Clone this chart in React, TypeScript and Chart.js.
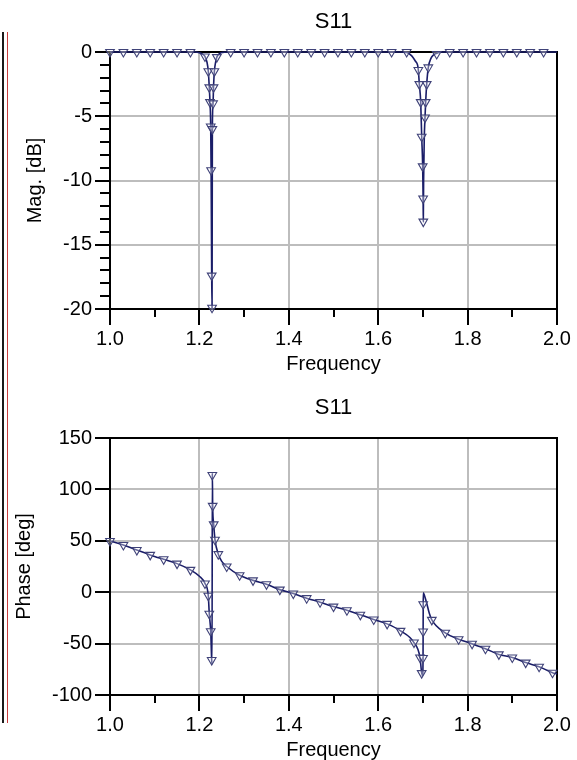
import React, { useEffect, useRef } from "react";
import { Chart, registerables } from "chart.js";

Chart.register(...registerables);

// ---------- axis ticks ----------
const xTickValues = [1.0, 1.2, 1.4, 1.6, 1.8, 2.0];
const xMinorTickValues = [1.1, 1.3, 1.5, 1.7, 1.9];
const magTickValues = [0, -5, -10, -15, -20];
const magMinorTickValues = [-1, -2, -3, -4, -6, -7, -8, -9, -11, -12, -13, -14, -16, -17, -18, -19];
const phaseTickValues = [-100, -50, 0, 50, 100, 150];
const phaseMinorTickValues: number[] = [];

// ---------- S11 magnitude (dB) : trace ----------
const magCurveFreq = [
  1.0, 1.19, 1.2, 1.206, 1.2125, 1.217, 1.2199, 1.2221, 1.2237, 1.2253, 1.2262, 1.2275, 1.2283,
  1.229, 1.2305, 1.2316, 1.2335, 1.2362, 1.239, 1.245, 1.255, 1.265,
  1.65, 1.6637, 1.675, 1.683, 1.688, 1.6898, 1.692, 1.6951, 1.6973, 1.6995, 1.7005, 1.7009,
  1.7016, 1.703, 1.7047, 1.7062, 1.7085, 1.7121, 1.718, 1.723, 1.731, 1.74, 2.0,
];
const magCurveDb = [
  0, 0, -0.05, -0.15, -0.35, -0.8, -1.5, -2.75, -3.9, -5.8, -9.2, -17.4, -20,
  -6.0, -4.0, -2.75, -1.5, -0.8, -0.4, -0.12, -0.02, 0,
  0, -0.03, -0.3, -0.7, -1.0, -1.4, -2.5, -3.9, -6.6, -8.9, -11.4, -13.2,
  -10.0, -6.8, -5.1, -3.9, -2.5, -1.2, -0.5, -0.25, -0.1, 0, 0,
];
// ---------- S11 magnitude (dB) : symbols ----------
const magMarkerFreq = [
  1.0, 1.03, 1.06, 1.09, 1.12, 1.15, 1.18, 1.2125,
  1.2199, 1.2221, 1.2237, 1.2253, 1.2262, 1.2275, 1.2283,
  1.229, 1.2305, 1.2316, 1.2335, 1.239,
  1.27, 1.3, 1.33, 1.36, 1.39, 1.42, 1.45, 1.48, 1.51, 1.54, 1.57, 1.6, 1.63, 1.6637,
  1.6898, 1.692, 1.6951, 1.6973, 1.6995, 1.7005, 1.7009,
  1.7047, 1.7062, 1.7085, 1.7121, 1.7309,
  1.76, 1.79, 1.82, 1.85, 1.88, 1.91, 1.94, 1.97,
];
const magMarkerDb = [
  0, 0, 0, 0, 0, 0, 0, -0.35,
  -1.5, -2.75, -3.9, -5.8, -9.2, -17.4, -19.9,
  -6.0, -4.0, -2.75, -1.5, -0.4,
  0, 0, 0, 0, 0, 0, 0, 0, 0, 0, 0, 0, 0, 0,
  -1.4, -2.5, -3.9, -6.6, -8.9, -11.4, -13.2,
  -5.1, -3.9, -2.5, -1.2, -0.15,
  0, 0, 0, 0, 0, 0, 0, 0,
];

// ---------- S11 phase (deg) : trace ----------
const phaseCurveFreq = [
  1.0, 1.03, 1.06, 1.09, 1.12, 1.15, 1.18, 1.2, 1.2125, 1.2199, 1.2221, 1.2253, 1.2275, 1.2283,
  1.2289, 1.2297, 1.232, 1.2349, 1.2423, 1.25, 1.2611, 1.29, 1.32, 1.35, 1.38, 1.41, 1.44, 1.47,
  1.5, 1.53, 1.56, 1.59, 1.62, 1.65, 1.68, 1.6935, 1.6973, 1.6995, 1.7003, 1.7005, 1.7007, 1.7009,
  1.704, 1.7085, 1.7143, 1.72, 1.75, 1.78, 1.81, 1.84, 1.87, 1.9, 1.93, 1.96, 1.99, 2.0,
];
const phaseCurveDeg = [
  49.8, 45.9, 41, 36.3, 32, 27.8, 21.7, 15.5, 8.5, -3.5, -21, -38, -66, -70,
  116, 84, 66, 51, 37, 30, 25, 16.5, 11.5, 7.7, 2.5, -1.3, -5.8, -9.7,
  -14, -17.5, -22, -26.5, -30.8, -37.6, -49, -63.5, -78.7, -81, -64, -38.3, -11.7, -0.5,
  -4, -10.7, -20.4, -26.9, -39.5, -45.7, -50.2, -55, -60.5, -63.5, -68.5, -72.5, -78.3, -79.5,
];
// ---------- S11 phase (deg) : symbols ----------
const phaseMarkerFreq = [
  1.0, 1.03, 1.06, 1.09, 1.12, 1.15, 1.18, 1.2125, 1.2199, 1.2221, 1.2253, 1.2275,
  1.2289, 1.2297, 1.232, 1.2349, 1.2423, 1.2611, 1.29, 1.32, 1.35, 1.38, 1.41, 1.44, 1.47,
  1.5, 1.53, 1.56, 1.59, 1.62, 1.65, 1.68, 1.6935, 1.6973, 1.7003, 1.7005, 1.7007,
  1.72, 1.75, 1.78, 1.81, 1.84, 1.87, 1.9, 1.93, 1.96, 1.99,
];
const phaseMarkerDeg = [
  49.8, 45.9, 41, 36.3, 32, 27.8, 21.7, 8.5, -3.5, -21, -38, -66,
  114, 84, 66, 51, 37, 25, 16.5, 11.5, 7.7, 2.5, -1.3, -5.8, -9.7,
  -14, -17.5, -22, -26.5, -30.8, -37.6, -49, -63.5, -78.7, -64, -38.3, -11.7,
  -26.9, -39.5, -45.7, -50.2, -55, -60.5, -63.5, -68.5, -72.5, -78.3,
];

const FONT = '"Liberation Sans", Arial, Helvetica, sans-serif';
const zip = (xs: number[], ys: number[]) => xs.map((x, i) => ({ x, y: ys[i] }));

function framePlugin(yMinor: number[]) {
  return {
    id: "frameMinor",
    beforeDatasetsDraw(chart: any) {
      const { ctx, chartArea: a, scales } = chart;
      ctx.save();
      ctx.strokeStyle = "#000";
      ctx.lineWidth = 2;
      ctx.strokeRect(a.left, a.top, a.right - a.left, a.bottom - a.top);
      ctx.beginPath();
      xMinorTickValues.forEach((v) => {
        const px = Math.round(scales.x.getPixelForValue(v));
        ctx.moveTo(px, a.bottom);
        ctx.lineTo(px, a.bottom + 8);
      });
      yMinor.forEach((v) => {
        const py = Math.round(scales.y.getPixelForValue(v));
        ctx.moveTo(a.left - 10, py);
        ctx.lineTo(a.left, py);
      });
      ctx.stroke();
      ctx.restore();
    },
  };
}

function makeConfig(p: {
  curve: { x: number; y: number }[];
  markers: { x: number; y: number }[];
  yMin: number;
  yMax: number;
  yTicks: number[];
  yMinor: number[];
  yTitle: string;
  yTitlePad: number;
  xAxisHeight: number;
  xTitlePad: number;
}): any {
  return {
    type: "line",
    data: {
      datasets: [
        {
          data: p.markers,
          showLine: false,
          pointStyle: "triangle",
          pointRotation: 180,
          pointRadius: 5,
          pointBorderWidth: 1.1,
          pointBorderColor: "#3f4278",
          pointBackgroundColor: "rgba(255,255,255,0.35)",
          clip: false,
          order: 1,
        },
        {
          data: p.curve,
          borderColor: "#1a1d68",
          borderWidth: 1.6,
          pointRadius: 0,
          cubicInterpolationMode: "monotone",
          fill: false,
          clip: false,
          order: 2,
        },
      ],
    },
    options: {
      responsive: false,
      animation: false,
      events: [],
      layout: { padding: { left: 0, right: 20, top: 0, bottom: 0 } },
      plugins: {
        legend: { display: false },
        tooltip: { enabled: false },
        title: {
          display: true,
          text: "S11",
          fullSize: false,
          color: "#000",
          font: { family: FONT, size: 22, weight: "normal" },
          padding: { top: 9, bottom: 16.6 },
        },
      },
      scales: {
        x: {
          type: "linear",
          min: 1,
          max: 2,
          afterBuildTicks: (s: any) => {
            s.ticks = xTickValues.map((v) => ({ value: v }));
          },
          afterFit: (s: any) => {
            s.height = p.xAxisHeight;
          },
          grid: { color: "#bdbdbd", lineWidth: 2, tickColor: "#000", tickWidth: 2, tickLength: 16 },
          border: { display: true, color: "#000", width: 2 },
          ticks: {
            color: "#000",
            font: { family: FONT, size: 20 },
            padding: 2,
            maxRotation: 0,
            autoSkip: false,
            callback: (v: any) => Number(v).toFixed(1),
          },
          title: {
            display: true,
            text: "Frequency",
            color: "#000",
            font: { family: FONT, size: 20 },
            padding: { top: 0, bottom: p.xTitlePad },
          },
        },
        y: {
          type: "linear",
          min: p.yMin,
          max: p.yMax,
          afterBuildTicks: (s: any) => {
            s.ticks = p.yTicks.map((v) => ({ value: v }));
          },
          afterFit: (s: any) => {
            s.width = 110;
          },
          grid: { color: "#bdbdbd", lineWidth: 2, tickColor: "#000", tickWidth: 2, tickLength: 15 },
          border: { display: true, color: "#000", width: 2 },
          ticks: {
            color: "#000",
            font: { family: FONT, size: 20 },
            padding: 3,
            autoSkip: false,
            callback: (v: any) => String(v),
          },
          title: {
            display: true,
            text: p.yTitle,
            color: "#000",
            font: { family: FONT, size: 20 },
            padding: { top: p.yTitlePad, bottom: 0 },
          },
        },
      },
    },
    plugins: [framePlugin(p.yMinor)],
  };
}

export default function App() {
  const magRef = useRef<HTMLCanvasElement | null>(null);
  const phaseRef = useRef<HTMLCanvasElement | null>(null);

  useEffect(() => {
    const c1 = new Chart(
      magRef.current as HTMLCanvasElement,
      makeConfig({
        curve: zip(magCurveFreq, magCurveDb),
        markers: zip(magMarkerFreq, magMarkerDb),
        yMin: -20,
        yMax: 0,
        yTicks: magTickValues,
        yMinor: magMinorTickValues,
        yTitle: "Mag. [dB]",
        yTitlePad: 23,
        xAxisHeight: 77,
        xTitlePad: 10,
      })
    );
    const c2 = new Chart(
      phaseRef.current as HTMLCanvasElement,
      makeConfig({
        curve: zip(phaseCurveFreq, phaseCurveDeg),
        markers: zip(phaseMarkerFreq, phaseMarkerDeg),
        yMin: -100,
        yMax: 150,
        yTicks: phaseTickValues,
        yMinor: phaseMinorTickValues,
        yTitle: "Phase [deg]",
        yTitlePad: 12,
        xAxisHeight: 65,
        xTitlePad: -2,
      })
    );
    return () => {
      c1.destroy();
      c2.destroy();
    };
  }, []);

  return (
    <div
      style={{
        position: "absolute",
        left: 0,
        top: 0,
        width: 577,
        height: 760,
        background: "#fff",
        overflow: "hidden",
      }}
    >
      <div style={{ position: "absolute", left: 2, top: 32, width: 2, height: 691, background: "#1a1a1a" }} />
      <div style={{ position: "absolute", left: 7, top: 32, width: 1, height: 691, background: "#c83c3c" }} />
      <canvas ref={magRef} width={577} height={386} style={{ position: "absolute", left: 0, top: 0 }} />
      <canvas ref={phaseRef} width={577} height={374} style={{ position: "absolute", left: 0, top: 386 }} />
    </div>
  );
}
